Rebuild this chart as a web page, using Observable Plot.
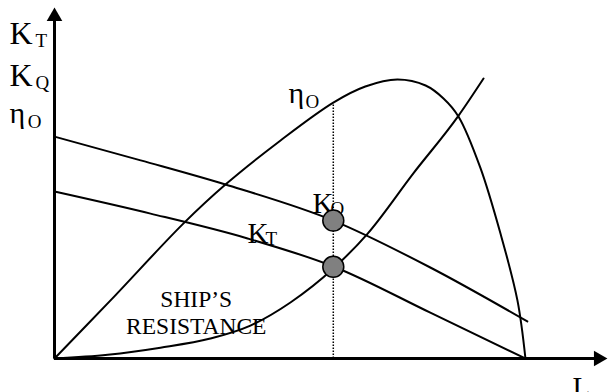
<!DOCTYPE html>
<html>
<head>
<meta charset="utf-8">
<script src="https://cdn.jsdelivr.net/npm/d3@7"></script>
<script src="https://cdn.jsdelivr.net/npm/@observablehq/plot@0.6"></script>
<style>
  html, body { margin: 0; padding: 0; background: #fff; }
</style>
</head>
<body>
<div id="chart"></div>
<script>
// Advance coefficient J (x) and coefficient value (y)
const ktJ = [0, 0.204, 0.410, 0.592, 0.798, 1.0];
const ktV = [0.477, 0.414, 0.343, 0.263, 0.131, 0];

const kqJ = [0, 0.183, 0.363, 0.592, 0.798, 1.004];
const kqV = [0.634, 0.566, 0.497, 0.394, 0.260, 0.106];

const etaJ = [0, 0.119, 0.274, 0.363, 0.480, 0.592, 0.660, 0.728, 0.788, 0.826, 0.858, 0.904, 0.947, 0.983, 1.0];
const etaV = [0, 0.166, 0.386, 0.497, 0.623, 0.731, 0.777, 0.797, 0.780, 0.743, 0.691, 0.546, 0.357, 0.166, 0];

const resJ = [0, 0.113, 0.225, 0.331, 0.416, 0.501, 0.592, 0.665, 0.762, 0.858, 0.911];
const resV = [0, 0.011, 0.031, 0.057, 0.094, 0.160, 0.257, 0.357, 0.529, 0.694, 0.8];

// Operating point
const opJ = 0.592;
const opEta = 0.731;
const opPoints = [{J: opJ, v: 0.394}, {J: opJ, v: 0.262}];

// Axis extents
const xAxisEnd = 1.155;
const yAxisEnd = 0.977;

// Labels
const leftMain = [
  {t: "K", J: -0.0955, v: 0.900},
  {t: "K", J: -0.0955, v: 0.780}
];
const chartMain = [
  {t: "K", J: 0.548, v: 0.417},
  {t: "K", J: 0.410, v: 0.331}
];
const subLabels = [
  {t: "T", J: -0.0403, v: 0.891},
  {t: "Q", J: -0.0403, v: 0.769},
  {t: "O", J: -0.057, v: 0.660},
  {t: "O", J: 0.533, v: 0.717},
  {t: "Q", J: 0.586, v: 0.411},
  {t: "T", J: 0.448, v: 0.323}
];
const etaLabels = [
  {t: "η", J: -0.0955, v: 0.674},
  {t: "η", J: 0.497, v: 0.731}
];
const resLabels = [
  {t: "SHIP\u2019S", J: 0.301, v: 0.146},
  {t: "RESISTANCE", J: 0.301, v: 0.071}
];
const axisLabels = [{t: "L", J: 1.1, v: -0.109}];

const toPts = (xs, ys) => xs.map((x, i) => ({J: x, v: ys[i]}));

const font = "Liberation Serif, Times New Roman, serif";

const chart = Plot.plot({
  width: 608,
  height: 392,
  marginLeft: 54,
  marginRight: 3,
  marginTop: 8,
  marginBottom: 34,
  x: {domain: [0, 1.17], axis: null},
  y: {domain: [0, 1], axis: null},
  style: {background: "#fff", fontFamily: font, overflow: "visible"},
  marks: [
    Plot.ruleX([opJ], {y1: 0, y2: opEta, stroke: "#000", strokeWidth: 1.5, strokeDasharray: "1.5 1.5"}),
    Plot.line(toPts(kqJ, kqV), {x: "J", y: "v", curve: "monotone-x", stroke: "#000", strokeWidth: 2}),
    Plot.line(toPts(ktJ, ktV), {x: "J", y: "v", curve: "monotone-x", stroke: "#000", strokeWidth: 2}),
    Plot.line(toPts(etaJ, etaV), {x: "J", y: "v", curve: "catmull-rom", stroke: "#000", strokeWidth: 2}),
    Plot.line(toPts(resJ, resV), {x: "J", y: "v", curve: "monotone-x", stroke: "#000", strokeWidth: 2}),
    Plot.ruleY([0], {x1: 0, x2: xAxisEnd, stroke: "#000", strokeWidth: 3}),
    Plot.ruleX([0], {y1: 0, y2: yAxisEnd, stroke: "#000", strokeWidth: 3}),
    Plot.dot([{J: 0, v: yAxisEnd}], {x: "J", y: "v", symbol: "triangle", r: 5.8, fill: "#000", stroke: null}),
    Plot.dot([{J: xAxisEnd, v: 0}], {x: "J", y: "v", symbol: "triangle", r: 5.8, fill: "#000", stroke: null, rotate: 90}),
    Plot.text(leftMain, {x: "J", y: "v", text: "t", textAnchor: "start", lineAnchor: "bottom", fontSize: 32, fontFamily: font, fill: "#000"}),
    Plot.text(chartMain, {x: "J", y: "v", text: "t", textAnchor: "start", lineAnchor: "bottom", fontSize: 29, fontFamily: font, fill: "#000"}),
    Plot.text(subLabels, {x: "J", y: "v", text: "t", textAnchor: "start", lineAnchor: "bottom", fontSize: 19, fontFamily: font, fill: "#000"}),
    Plot.text(etaLabels, {x: "J", y: "v", text: "t", textAnchor: "start", lineAnchor: "bottom", fontSize: 30, fontFamily: font, fill: "#000"}),
    Plot.text(resLabels, {x: "J", y: "v", text: "t", textAnchor: "middle", lineAnchor: "bottom", fontSize: 23.5, fontFamily: font, fill: "#000"}),
    Plot.text(axisLabels, {x: "J", y: "v", text: "t", textAnchor: "start", lineAnchor: "bottom", fontSize: 29, fontFamily: font, fill: "#000"}),
    Plot.dot(opPoints, {x: "J", y: "v", r: 10.5, fill: "#808080", stroke: "#000", strokeWidth: 1.5})
  ]
});
document.getElementById("chart").appendChild(chart);
</script>
</body>
</html>
